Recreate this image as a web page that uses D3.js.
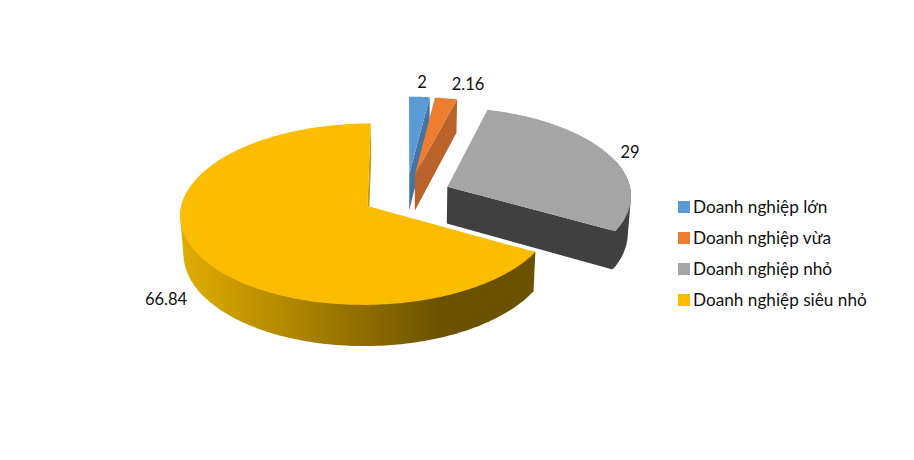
<!DOCTYPE html>
<html>
<head>
<meta charset="utf-8">
<script src="https://cdn.jsdelivr.net/npm/d3@7"></script>
<style>
html,body{margin:0;padding:0;background:#fff;overflow:hidden}
text{font-family:Lato,"Open Sans",sans-serif;fill:#111}
</style>
</head>
<body>
<svg id="chart" width="914" height="460"></svg>
<script>
const categories = ["Doanh nghiệp lớn","Doanh nghiệp vừa","Doanh nghiệp nhỏ","Doanh nghiệp siêu nhỏ"];
const values = [2, 2.16, 29, 66.84];
const valueLabels = ["2","2.16","29","66.84"];
const topColors = ["#5b9bd5","#ed7d31","#a5a5a5","#fcbc00"];
const wallColors = ["#44749f","#b9632a","#404040","url(#wallGrad)"];

const W=914,H=460;
const cx=406.5,cy=195,rx=184,ry=88,k=0.09,depth=37,explode=0.243,shrink=0.986;
const svg=d3.select("#chart");

const defs=svg.append("defs");
const g=defs.append("linearGradient").attr("id","wallGrad").attr("gradientUnits","userSpaceOnUse")
  .attr("x1",180).attr("x2",440).attr("y1",0).attr("y2",0);
g.append("stop").attr("offset",0).attr("stop-color","#e0ae00");
g.append("stop").attr("offset",0.35).attr("stop-color","#b98e00");
g.append("stop").attr("offset",1).attr("stop-color","#6b5200");

function proj(u,v,low){
  const p=1/(1-k*v);
  const s=low?shrink:1;
  return [cx+rx*u*p*s, cy+ry*v*p+(low?depth*p:0)];
}
const pie=d3.pie().sort(null).value(d=>d)(values);
const line=d3.line();
const pathOf=pts=>line(pts)+"Z";

const slices=pie.map((d,i)=>{
  const mid=(d.startAngle+d.endAngle)/2;
  const ou=explode*Math.sin(mid), ov=-explode*Math.cos(mid);
  const at=(t,r,low)=>proj(ou+r*Math.sin(t),ov-r*Math.cos(t),low);
  return {d,i,at};
});
function arcPts(s,a,b,low){
  const n=Math.max(2,Math.ceil(Math.abs(b-a)/0.02));
  return d3.range(n+1).map(j=>s.at(a+(b-a)*j/n,1,low));
}
const layer=svg.append("g");
// gray first, then the small wedges, then the large one
[2,0,1,3].forEach(i=>{
  const s=slices[i], a0=s.d.startAngle, a1=s.d.endAngle, wall=wallColors[i], top=topColors[i];
  const gs=layer.append("g").attr("class","slice");
  if(i===3){
    // outer wall: hull of the upper and lower rims, so the silhouette is tangent to both
    const a=a0, b=Math.PI*1.55;
    gs.append("path").attr("d",pathOf(d3.polygonHull(arcPts(s,a,b,false).concat(arcPts(s,b,a,true))))).attr("fill",wall);
    // thin inner wall on the closing radius
    const w=[s.at(a1,0,false),s.at(a1,1,false),s.at(a1,1,true),s.at(a1,0,true)];
    gs.append("path").attr("d",pathOf(w)).attr("fill","#c79a10");
  } else if(i===2){
    // closing radius wall and arc wall
    const w=[s.at(a1,0,false),s.at(a1,1,false),s.at(a1,1,true),s.at(a1,0,true)];
    gs.append("path").attr("d",pathOf(w)).attr("fill",wall);
    const b=Math.PI*0.40;
    gs.append("path").attr("d",pathOf(d3.polygonHull(arcPts(s,b,a1,false).concat(arcPts(s,a1,b,true))))).attr("fill",wall);
  } else {
    const w=[s.at(a1,0,false),s.at(a1,1,false),s.at(a1,1,true),s.at(a1,0,true)];
    gs.append("path").attr("d",pathOf(w)).attr("fill",wall);
  }
  const pts=[s.at(a0,0,false)].concat(arcPts(s,a0,a1,false));
  gs.append("path").attr("d",pathOf(pts)).attr("fill",top);
});

// data labels
const labelSpots=[[422,88],[468,90],[630,158],[166,305]];
svg.append("g").selectAll("text").data(valueLabels).join("text")
  .attr("x",(d,i)=>labelSpots[i][0]).attr("y",(d,i)=>labelSpots[i][1])
  .attr("text-anchor","middle").attr("font-size",16.5).text(d=>d);

// legend
const ly=d3.scalePoint().domain(categories).range([207,300]);
const leg=svg.append("g").selectAll("g").data(categories).join("g")
  .attr("transform",d=>`translate(678,${ly(d)})`);
leg.append("rect").attr("x",0).attr("y",-6).attr("width",12).attr("height",12)
  .attr("fill",(d,i)=>topColors[i]);
leg.append("text").attr("x",15).attr("y",6).attr("font-size",17.2).text(d=>d);
</script>
</body>
</html>
